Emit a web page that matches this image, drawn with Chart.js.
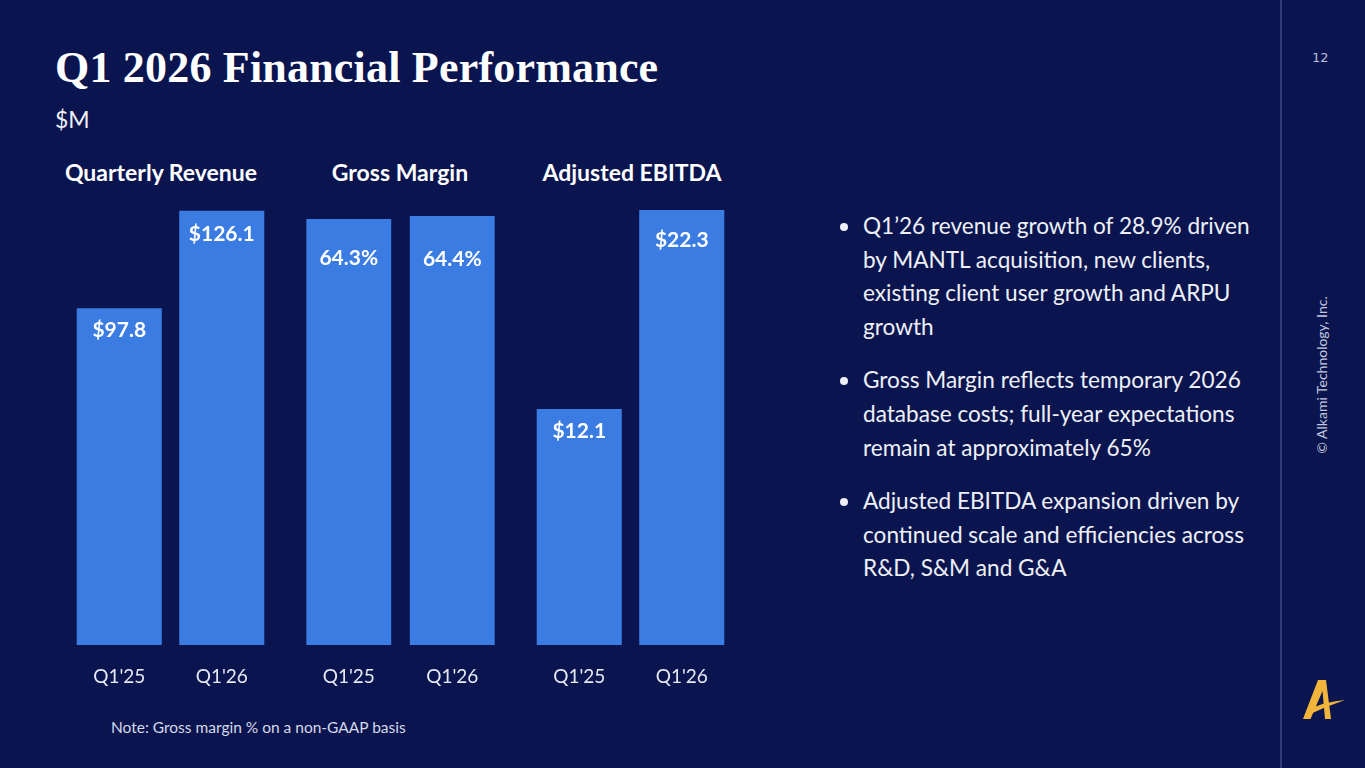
<!DOCTYPE html>
<html>
<head>
<meta charset="utf-8">
<script src="https://cdn.jsdelivr.net/npm/chart.js@4.4.1/dist/chart.umd.min.js"></script>
<style>
  html, body { margin:0; padding:0; background:#0a1550; }
  #slide { position:relative; width:1365px; height:768px; background:#0a1550; overflow:hidden; font-family: Lato, "Open Sans", sans-serif; color:#fff; }
  .abs { position:absolute; }
  #title { left:55px; top:42px; font-family:"Liberation Serif", serif; font-weight:bold; font-size:44px; color:#fff; white-space:nowrap; letter-spacing:0.2px; }
  #unit { left:55px; top:105px; font-size:23px; color:#f0f0f6; }
  .gtitle { top:158px; font-weight:bold; font-size:23px; color:#fff; white-space:nowrap; transform:translateX(-50%); }
  .cv { position:absolute; }
  #bullets { left:835px; top:209px; width:430px; font-size:22.6px; line-height:33.7px; color:#eef0f6; }
  .b { position:relative; padding-left:28px; margin-bottom:19.5px; }
  .b::before { content:""; position:absolute; left:5px; top:14px; width:8px; height:8px; border-radius:50%; background:#eef0f6; }
  #note { left:111px; top:718px; font-size:15.5px; color:#d6d9e8; }
  #vline { left:1280px; top:0; width:2px; height:768px; background:#2f3d78; }
  #page { left:1312px; top:50px; font-size:13px; color:#b9bfd8; font-family:"DejaVu Sans", sans-serif; }
  #copy { left:1321px; top:375px; font-size:14px; color:#c3c8de; white-space:nowrap; transform:translate(-50%,-50%) rotate(-90deg); }
  #logo { left:1300px; top:678px; }
</style>
</head>
<body>
<div id="slide">
  <div id="title" class="abs">Q1 2026 Financial Performance</div>
  <div id="unit" class="abs">$M</div>

  <div class="abs gtitle" style="left:161px">Quarterly Revenue</div>
  <div class="abs gtitle" style="left:400px">Gross Margin</div>
  <div class="abs gtitle" style="left:632px">Adjusted EBITDA</div>

  <div class="cv" style="left:67.75px; top:205px; width:205px; height:495px;"><canvas id="c1"></canvas></div>
  <div class="cv" style="left:296.5px; top:205px; width:207px; height:495px;"><canvas id="c2"></canvas></div>
  <div class="cv" style="left:527.75px; top:205px; width:205px; height:495px;"><canvas id="c3"></canvas></div>

  <div id="bullets" class="abs">
    <div class="b">Q1’26 revenue growth of 28.9% driven by MANTL acquisition, new clients, existing client user growth and ARPU growth</div>
    <div class="b">Gross Margin reflects temporary 2026 database costs; full-year expectations remain at approximately 65%</div>
    <div class="b">Adjusted EBITDA expansion driven by continued scale and efficiencies across R&amp;D, S&amp;M and G&amp;A</div>
  </div>

  <div id="note" class="abs">Note: Gross margin % on a non-GAAP basis</div>
  <div id="vline" class="abs"></div>
  <div id="page" class="abs">12</div>
  <div id="copy" class="abs">© Alkami Technology, Inc.</div>
  <svg id="logo" class="abs" width="46" height="44" viewBox="0 0 46 44">
    <path d="M18 2 L26 2 L31 41 L25 41 L22.5 13 L10.5 41 L3 41 Z" fill="#f2b53c"/>
    <path d="M6 33 Q22 24 45 22 Q27 28 8 37 Z" fill="#f2b53c"/>
  </svg>
</div>

<script>
const periods = ["Q1'25", "Q1'26"];
const revenue = [97.8, 126.1];
const grossMargin = [64.3, 64.4];
const adjEbitda = [12.1, 22.3];

const BAR = '#3a7ce2';
const TEXT = '#ffffff';

// label formatting and styling (distance of value label below bar top, px)
const labelStyle = {
  c1: { fmt: v => '$' + v.toFixed(1), offsets: [22, 23] },
  c2: { fmt: v => v.toFixed(1) + '%', offsets: [39, 43] },
  c3: { fmt: v => '$' + v.toFixed(1), offsets: [22, 30] }
};

const valueLabels = {
  id: 'valueLabels',
  afterDatasetsDraw(chart) {
    const ctx = chart.ctx;
    const st = labelStyle[chart.canvas.id];
    const meta = chart.getDatasetMeta(0);
    ctx.save();
    ctx.fillStyle = TEXT;
    ctx.font = 'bold 21px Lato, "Open Sans", sans-serif';
    ctx.textAlign = 'center';
    ctx.textBaseline = 'middle';
    meta.data.forEach((bar, i) => {
      const v = chart.data.datasets[0].data[i];
      ctx.fillText(st.fmt(v), bar.x, bar.y + st.offsets[i]);
    });
    ctx.restore();
  }
};

function makeChart(id, values, yMin, yMax, barPct) {
  new Chart(document.getElementById(id), {
    type: 'bar',
    data: {
      labels: periods,
      datasets: [{ data: values, backgroundColor: BAR, borderWidth: 0,
                   categoryPercentage: 1.0, barPercentage: barPct }]
    },
    options: {
      responsive: true,
      maintainAspectRatio: false,
      animation: false,
      layout: { padding: 0 },
      plugins: {
        legend: { display: false },
        tooltip: { enabled: false }
      },
      scales: {
        x: {
          grid: { display: false, drawTicks: false },
          border: { display: false },
          ticks: { color: '#e8eaf3', font: { family: 'Lato, "Open Sans", sans-serif', size: 19 }, padding: 20 },
          afterFit(scale) { scale.height = 55; }
        },
        y: { display: false, min: yMin, max: yMax }
      }
    },
    plugins: [valueLabels]
  });
}

makeChart('c1', revenue, 0, 127.8, 0.83);
makeChart('c2', grossMargin, 50, 64.77, 0.82);
makeChart('c3', adjEbitda, 0, 22.56, 0.83);
</script>
</body>
</html>
